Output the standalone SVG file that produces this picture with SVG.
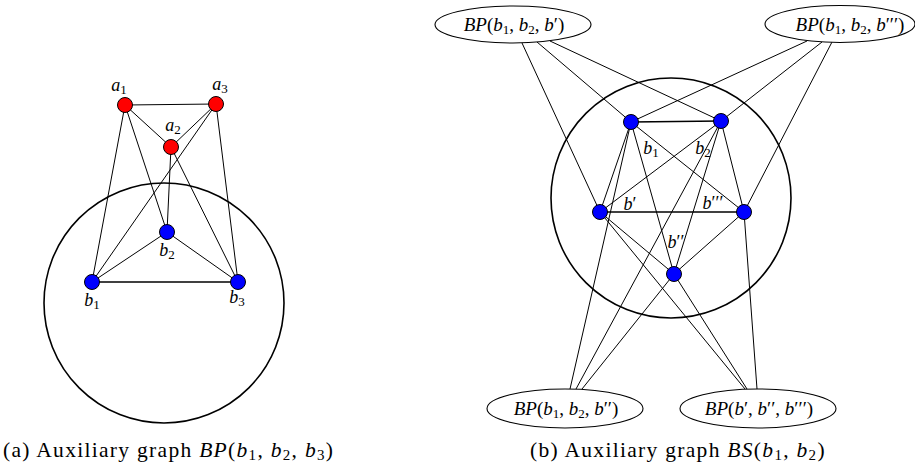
<svg xmlns="http://www.w3.org/2000/svg" width="915" height="466" viewBox="0 0 915 466">
<style>
.bg{fill:#fff}
.big{fill:none;stroke:#000;stroke-width:1.6}
.e line{stroke:#000;stroke-width:1}
.e line.thick{stroke-width:1.7}
.red{fill:#ff0000;stroke:#000;stroke-width:1}
.blue{fill:#0000ff;stroke:#000;stroke-width:1}
.ell{fill:#fff;stroke:#000;stroke-width:1.1}
text{font-family:"Liberation Serif","DejaVu Serif",serif;fill:#000}
.lbl{font-size:18px}
.elab{font-size:19px}
.cap{font-size:21.5px;letter-spacing:1.3px}
.i{font-style:italic}
.s{font-size:13px}
.cs{font-size:15px}
</style>
<rect class="bg" x="0" y="0" width="915" height="466"/>

<!-- Left graph -->
<circle class="big" cx="164" cy="303" r="120"/>
<g id="left-edges" class="e">
<line x1="125" y1="105" x2="216" y2="104"/>
<line x1="125" y1="105" x2="171" y2="147"/>
<line x1="216" y1="104" x2="171" y2="147"/>
<line x1="125" y1="105" x2="92" y2="282"/>
<line x1="125" y1="105" x2="167" y2="232"/>
<line x1="216" y1="104" x2="92" y2="282"/>
<line x1="216" y1="104" x2="238" y2="282"/>
<line x1="171" y1="147" x2="167" y2="232"/>
<line x1="171" y1="147" x2="238" y2="282"/>
<line x1="92" y1="282" x2="167" y2="232"/>
<line x1="167" y1="232" x2="238" y2="282"/>
<line class="thick" x1="92" y1="282" x2="238" y2="282"/>
</g>
<g id="a1"><circle class="red" cx="125" cy="105" r="7.5"/><text class="lbl" x="119" y="91" text-anchor="middle"><tspan class="i">a</tspan><tspan class="s" dy="3">1</tspan></text></g>
<g id="a3"><circle class="red" cx="216" cy="104" r="7.5"/><text class="lbl" x="220" y="90" text-anchor="middle"><tspan class="i">a</tspan><tspan class="s" dy="3">3</tspan></text></g>
<g id="a2"><circle class="red" cx="171" cy="147" r="7.5"/><text class="lbl" x="173" y="131" text-anchor="middle"><tspan class="i">a</tspan><tspan class="s" dy="3">2</tspan></text></g>
<g id="b2"><circle class="blue" cx="167" cy="232" r="7.5"/><text class="lbl" x="167" y="256" text-anchor="middle"><tspan class="i">b</tspan><tspan class="s" dy="3">2</tspan></text></g>
<g id="b1"><circle class="blue" cx="92" cy="282" r="7.5"/><text class="lbl" x="92" y="306" text-anchor="middle"><tspan class="i">b</tspan><tspan class="s" dy="3">1</tspan></text></g>
<g id="b3"><circle class="blue" cx="238" cy="282" r="7.5"/><text class="lbl" x="237" y="303" text-anchor="middle"><tspan class="i">b</tspan><tspan class="s" dy="3">3</tspan></text></g>

<!-- Right graph -->
<circle class="big" cx="671" cy="198" r="120"/>
<g id="right-edges" class="e">
<line class="thick" x1="631" y1="122" x2="721" y2="121"/>
<line x1="631" y1="122" x2="600" y2="212"/>
<line x1="631" y1="122" x2="674" y2="274"/>
<line x1="631" y1="122" x2="744" y2="212"/>
<line x1="721" y1="121" x2="600" y2="212"/>
<line x1="721" y1="121" x2="674" y2="274"/>
<line x1="721" y1="121" x2="744" y2="212"/>
<line class="thick" x1="600" y1="212" x2="744" y2="212"/>
<line x1="600" y1="212" x2="674" y2="274"/>
<line x1="744" y1="212" x2="674" y2="274"/>
<line x1="522" y1="43" x2="600" y2="212"/>
<line x1="537" y1="42" x2="631" y2="122"/>
<line x1="550" y1="41" x2="721" y2="121"/>
<line x1="807" y1="41" x2="631" y2="122"/>
<line x1="822" y1="42" x2="721" y2="121"/>
<line x1="832" y1="42" x2="744" y2="212"/>
<line x1="570" y1="389" x2="631" y2="122"/>
<line x1="576" y1="389" x2="721" y2="121"/>
<line x1="582" y1="389" x2="674" y2="274"/>
<line x1="745" y1="389" x2="600" y2="212"/>
<line x1="747" y1="389" x2="674" y2="274"/>
<line x1="757" y1="389" x2="744" y2="212"/>
</g>
<g id="rb1"><circle class="blue" cx="631" cy="122" r="7.5"/><text class="lbl" x="651" y="154" text-anchor="middle"><tspan class="i">b</tspan><tspan class="s" dy="3">1</tspan></text></g>
<g id="rb2"><circle class="blue" cx="721" cy="121" r="7.5"/><text class="lbl" x="703" y="154" text-anchor="middle"><tspan class="i">b</tspan><tspan class="s" dy="3">2</tspan></text></g>
<g id="rbp"><circle class="blue" cx="600" cy="212" r="7.5"/><text class="lbl" x="630" y="210" text-anchor="middle"><tspan class="i">b</tspan>′</text></g>
<g id="rbppp"><circle class="blue" cx="744" cy="212" r="7.5"/><text class="lbl" x="713" y="209" text-anchor="middle"><tspan class="i">b</tspan>′′′</text></g>
<g id="rbpp"><circle class="blue" cx="674" cy="274" r="7.5"/><text class="lbl" x="676" y="248" text-anchor="middle"><tspan class="i">b</tspan>′′</text></g>

<g id="BP-b1b2bp"><ellipse class="ell" cx="513" cy="24.5" rx="78" ry="18.5"/><text class="elab" x="514" y="31" text-anchor="middle"><tspan class="i">BP</tspan>(<tspan class="i">b</tspan><tspan class="s" dy="3">1</tspan><tspan dy="-3">, </tspan><tspan class="i">b</tspan><tspan class="s" dy="3">2</tspan><tspan dy="-3">, </tspan><tspan class="i">b</tspan>′)</text></g>
<g id="BP-b1b2bppp"><ellipse class="ell" cx="840" cy="24" rx="75" ry="18.5"/><text class="elab" x="850" y="31" text-anchor="middle"><tspan class="i">BP</tspan>(<tspan class="i">b</tspan><tspan class="s" dy="3">1</tspan><tspan dy="-3">, </tspan><tspan class="i">b</tspan><tspan class="s" dy="3">2</tspan><tspan dy="-3">, </tspan><tspan class="i">b</tspan>′′′)</text></g>
<g id="BP-b1b2bpp"><ellipse class="ell" cx="565" cy="408.5" rx="78" ry="19.5"/><text class="elab" x="566" y="415" text-anchor="middle"><tspan class="i">BP</tspan>(<tspan class="i">b</tspan><tspan class="s" dy="3">1</tspan><tspan dy="-3">, </tspan><tspan class="i">b</tspan><tspan class="s" dy="3">2</tspan><tspan dy="-3">, </tspan><tspan class="i">b</tspan>′′)</text></g>
<g id="BP-bpbppbppp"><ellipse class="ell" cx="758" cy="408.5" rx="78" ry="19.5"/><text class="elab" x="759" y="415" text-anchor="middle"><tspan class="i">BP</tspan>(<tspan class="i">b</tspan>′, <tspan class="i">b</tspan>′′, <tspan class="i">b</tspan>′′′)</text></g>

<g id="captions">
<text class="cap" x="3" y="457">(a) Auxiliary graph <tspan class="i">BP</tspan>(<tspan class="i">b</tspan><tspan class="cs" dy="3">1</tspan><tspan dy="-3">, </tspan><tspan class="i">b</tspan><tspan class="cs" dy="3">2</tspan><tspan dy="-3">, </tspan><tspan class="i">b</tspan><tspan class="cs" dy="3">3</tspan><tspan dy="-3">)</tspan></text>
<text class="cap" x="530" y="457">(b) Auxiliary graph <tspan class="i">BS</tspan>(<tspan class="i">b</tspan><tspan class="cs" dy="3">1</tspan><tspan dy="-3">, </tspan><tspan class="i">b</tspan><tspan class="cs" dy="3">2</tspan><tspan dy="-3">)</tspan></text>
</g>
</svg>
